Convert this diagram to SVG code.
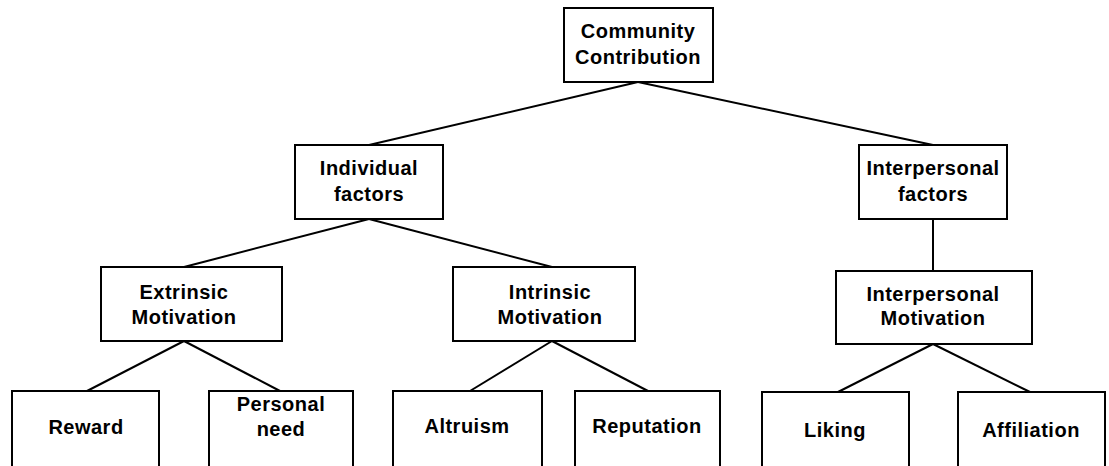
<svg xmlns="http://www.w3.org/2000/svg" width="1109" height="466" viewBox="0 0 1109 466">
<style>
.box{fill:#fff;stroke:#000;stroke-width:2}
.t{font-family:"Liberation Sans",Arial,sans-serif;font-weight:bold;font-size:20px;letter-spacing:0.5px;fill:#000;text-anchor:middle}
.c line{stroke:#000;stroke-width:2}
</style>
<rect width="1109" height="466" fill="#fff"/>
<g class="c" id="connectors">
<line x1="638" y1="82" x2="369" y2="145"/>
<line x1="638" y1="82" x2="933" y2="145"/>
<line x1="369" y1="219" x2="184" y2="267"/>
<line x1="369" y1="219" x2="552" y2="267"/>
<line x1="933" y1="219" x2="933" y2="271"/>
<line x1="184" y1="341" x2="87" y2="391"/>
<line x1="184" y1="341" x2="280" y2="391"/>
<line x1="552" y1="341" x2="470" y2="391"/>
<line x1="552" y1="341" x2="648" y2="391"/>
<line x1="933" y1="344" x2="838" y2="392"/>
<line x1="933" y1="344" x2="1030" y2="392"/>
</g>
<g id="community"><rect class="box" x="564" y="8" width="149" height="74"/><text class="t" x="638" y="38">Community</text><text class="t" x="638" y="64">Contribution</text></g>
<g id="individual"><rect class="box" x="295" y="145" width="148" height="74"/><text class="t" x="369" y="175">Individual</text><text class="t" x="369" y="201">factors</text></g>
<g id="interpersonal-factors"><rect class="box" x="859" y="145" width="148" height="74"/><text class="t" x="933" y="175">Interpersonal</text><text class="t" x="933" y="201">factors</text></g>
<g id="extrinsic"><rect class="box" x="101" y="267" width="181" height="74"/><text class="t" x="184" y="299">Extrinsic</text><text class="t" x="184" y="324">Motivation</text></g>
<g id="intrinsic"><rect class="box" x="453" y="267" width="182" height="74"/><text class="t" x="550" y="299">Intrinsic</text><text class="t" x="550" y="324">Motivation</text></g>
<g id="interpersonal-motivation"><rect class="box" x="836" y="271" width="196" height="73"/><text class="t" x="933" y="301">Interpersonal</text><text class="t" x="933" y="325">Motivation</text></g>
<g id="reward"><rect class="box" x="12" y="391" width="147" height="90"/><text class="t" x="86" y="434">Reward</text></g>
<g id="personal-need"><rect class="box" x="209" y="391" width="144" height="90"/><text class="t" x="281" y="411">Personal</text><text class="t" x="281" y="436">need</text></g>
<g id="altruism"><rect class="box" x="393" y="391" width="149" height="90"/><text class="t" x="467" y="433">Altruism</text></g>
<g id="reputation"><rect class="box" x="575" y="391" width="145" height="90"/><text class="t" x="647" y="433">Reputation</text></g>
<g id="liking"><rect class="box" x="762" y="392" width="147" height="90"/><text class="t" x="835" y="437">Liking</text></g>
<g id="affiliation"><rect class="box" x="958" y="392" width="147" height="90"/><text class="t" x="1031" y="437">Affiliation</text></g>
</svg>
